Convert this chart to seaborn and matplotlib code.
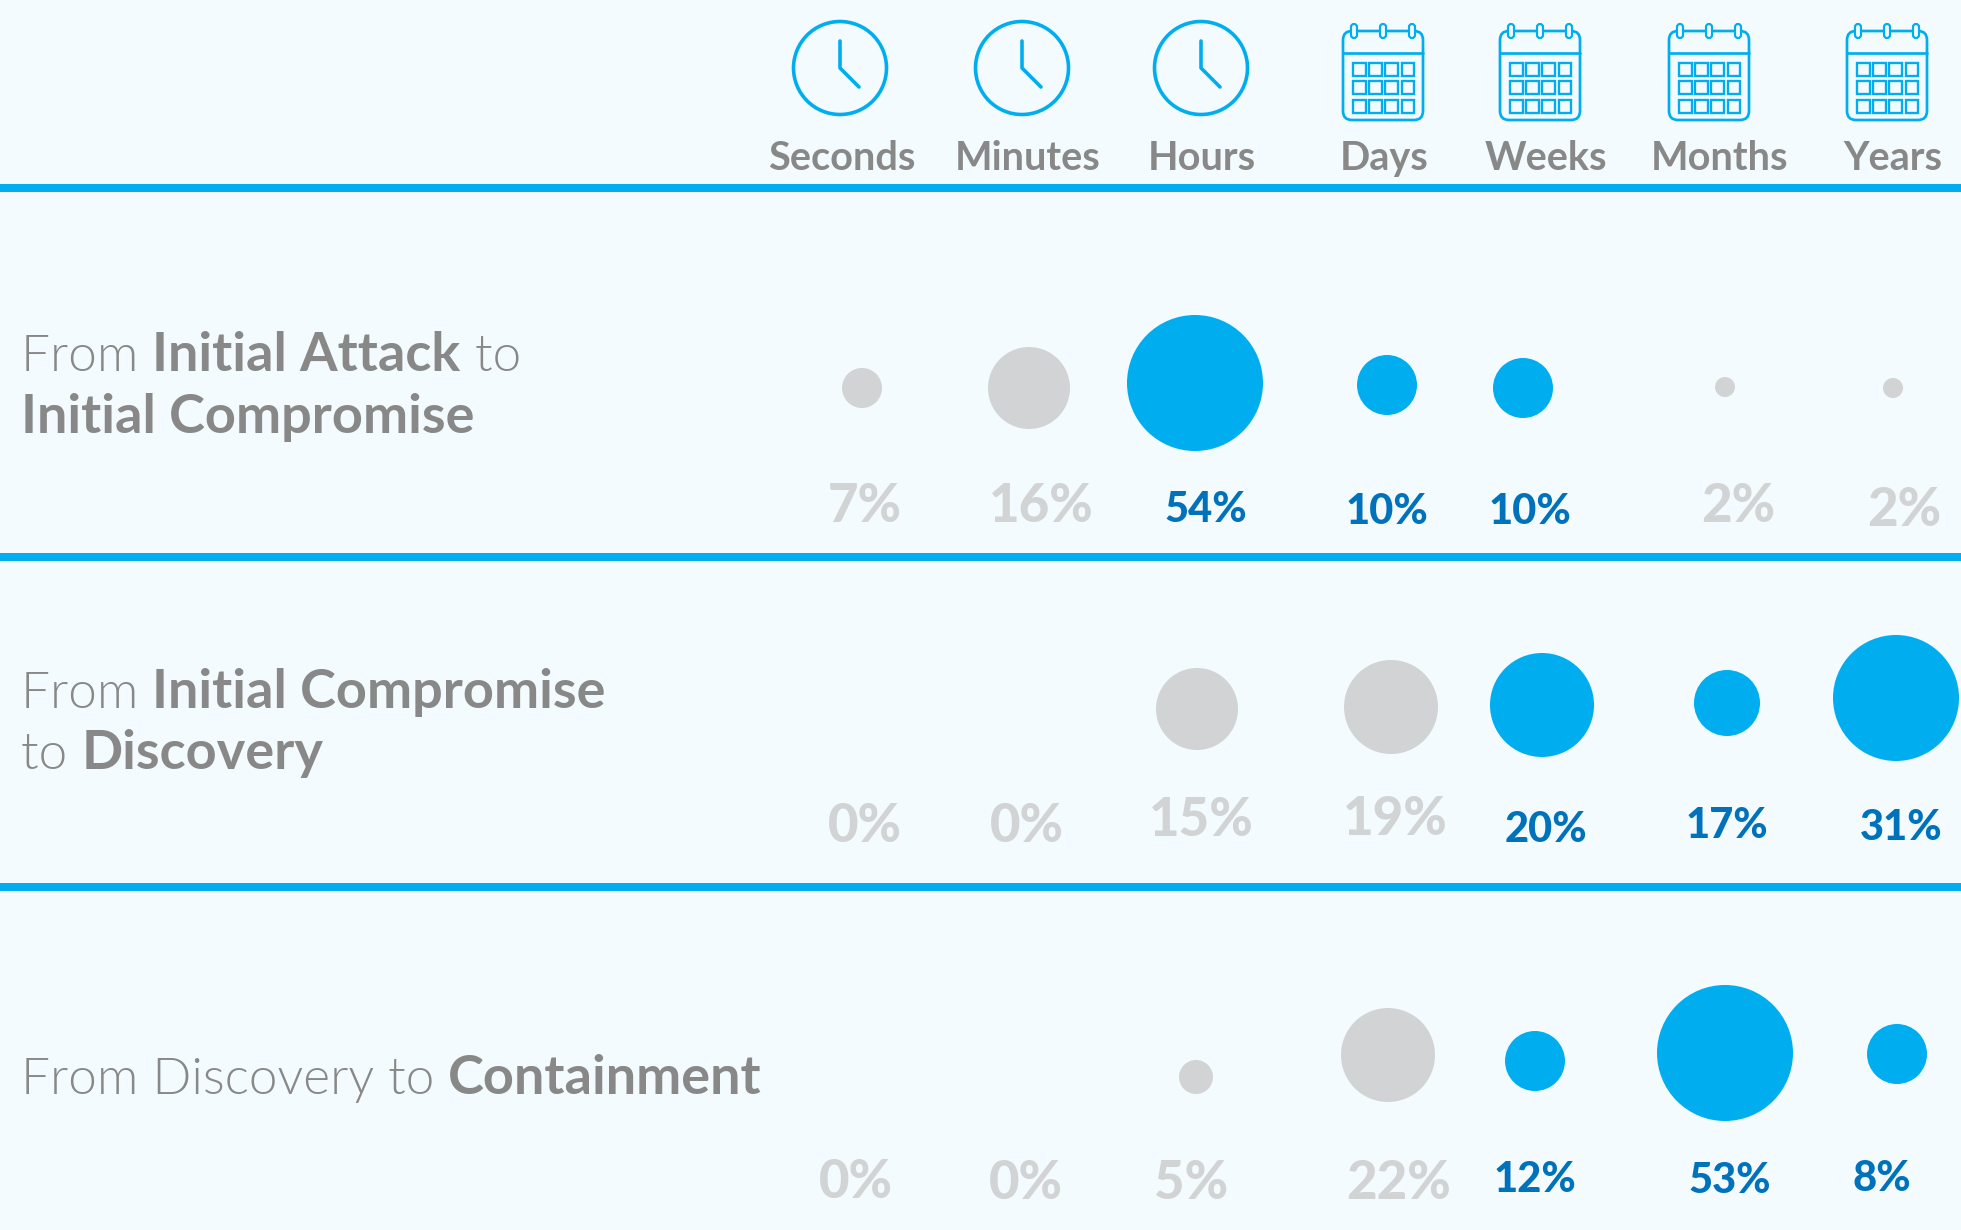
import pandas as pd
import seaborn as sns
import matplotlib.pyplot as plt
from matplotlib.patches import Circle, FancyBboxPatch, Rectangle

# values
periods = ['Seconds', 'Minutes', 'Hours', 'Days', 'Weeks', 'Months', 'Years']
stages = ['attack', 'discovery', 'containment']
pct_attack = [7, 16, 54, 10, 10, 2, 2]
pct_discovery = [0, 0, 15, 19, 20, 17, 31]
pct_containment = [0, 0, 5, 22, 12, 53, 8]
hot_attack = [0, 0, 1, 1, 1, 0, 0]
hot_discovery = [0, 0, 0, 0, 1, 1, 1]
hot_containment = [0, 0, 0, 0, 1, 1, 1]

BG = '#F3FBFF'
CYAN = '#00AEEF'
GREY = '#D1D3D4'
BLUE = '#0072BC'
TXT = '#888888'
FONT = 'Lato'

# layout, in pixels of the output picture: the original nudges every bubble by hand
bubble_x = {'attack': [862, 1029, 1195, 1387, 1523, 1725, 1893],
            'discovery': [862, 1029, 1197, 1391, 1542, 1727, 1896],
            'containment': [862, 1029, 1196, 1388, 1535, 1725, 1897]}
bubble_y = {'attack': [388, 388, 383, 385, 388, 387, 388],
            'discovery': [709, 709, 709, 707, 705, 703, 698],
            'containment': [1077, 1077, 1077, 1055, 1061, 1053, 1054]}
label_x = {'attack': [865, 1041, 1206, 1387, 1530, 1738, 1904],
           'discovery': [865, 1027, 1201, 1395, 1546, 1727, 1901],
           'containment': [856, 1026, 1191, 1398, 1535, 1730, 1882]}
label_y = {'attack': [522, 522, 522, 524, 524, 522, 526],
           'discovery': [842, 842, 836, 835, 842, 838, 840],
           'containment': [1198, 1199, 1199, 1199, 1192, 1193, 1191]}
# bubble radius in pixels for each percentage, not strictly monotonic in the original
radius = {2: 10, 5: 17, 7: 20, 8: 30, 10: 30, 12: 30, 15: 41, 16: 41, 17: 33,
          19: 47, 20: 52, 22: 47, 31: 63, 53: 68, 54: 68}
period_x = [842, 1028, 1202, 1384, 1546, 1720, 1893]
clock_x = [840, 1022, 1201]
cal_x = [1383, 1540, 1709, 1887]
rule_y = [188, 557, 887]

rows = {'attack': (pct_attack, hot_attack),
        'discovery': (pct_discovery, hot_discovery),
        'containment': (pct_containment, hot_containment)}
frames = []
for st in stages:
    frames.append(pd.DataFrame({'stage': st, 'period': periods, 'pct': rows[st][0],
                                'hot': rows[st][1], 'x': bubble_x[st], 'y': bubble_y[st],
                                'lx': label_x[st], 'ly': label_y[st]}))
df = pd.concat(frames, ignore_index=True)

sns.set_style('white')
plt.rcParams['font.family'] = [FONT, 'DejaVu Sans']
DPI = 100
fig, ax = plt.subplots(figsize=(19.61, 12.30), dpi=DPI, facecolor=BG)
ax.set_position([0, 0, 1, 1])
ax.set_facecolor(BG)

for y in rule_y:
    ax.axhline(y, color=CYAN, lw=8 * 72 / DPI, zorder=1)

shown = df[df['pct'] > 0]
sizes = {k: (2 * r * 72 / DPI) ** 2 for k, r in radius.items()}
sns.scatterplot(data=shown, x='x', y='y', hue='hot', palette={0: GREY, 1: CYAN},
                size='pct', sizes=sizes, linewidth=0, legend=False, ax=ax, zorder=3)
ax.set_xlim(0, 1961)
ax.set_ylim(1230, 0)
ax.axis('off')

# percentage labels
for _, r in df.iterrows():
    ax.text(r['lx'], r['ly'], f"{r['pct']}%", ha='center', va='baseline',
            color=BLUE if r['hot'] else GREY, fontsize=30 if r['hot'] else 38,
            fontweight=900, zorder=4)

# period labels
for name, x in zip(periods, period_x):
    ax.text(x, 170, name, ha='center', va='baseline', color=TXT, fontsize=28.5, fontweight='bold')

# stage titles built from light and bold runs
renderer = fig.canvas.get_renderer()


def runs(x, y, parts):
    for s, bold in parts:
        t = ax.text(x, y, s, ha='left', va='baseline', color=TXT,
                    fontsize=39 if bold else 37, fontweight='bold' if bold else 300)
        x = ax.transData.inverted().transform(
            (t.get_window_extent(renderer).x1, 0))[0]


runs(21, 371, [('From ', False), ('Initial Attack', True), (' to', False)])
runs(21, 433, [('Initial Compromise', True)])
runs(21, 708, [('From ', False), ('Initial Compromise', True)])
runs(21, 769, [('to ', False), ('Discovery', True)])
runs(21, 1094, [('From Discovery to ', False), ('Containment', True)])

# header icons
ICON_LW = 3.6 * 72 / DPI
for cx in clock_x:
    ax.add_patch(Circle((cx, 68), 46.5, fill=False, ec=CYAN, lw=ICON_LW))
    ax.plot([cx, cx, cx + 19], [41, 68, 87], color=CYAN, lw=ICON_LW,
            solid_capstyle='round', solid_joinstyle='round')

for cx in cal_x:
    ax.add_patch(FancyBboxPatch((cx - 40, 31), 80, 89, boxstyle='round,pad=0,rounding_size=9',
                                fill=False, ec=CYAN, lw=ICON_LW * 0.75))
    ax.plot([cx - 40, cx + 40], [53, 53], color=CYAN, lw=ICON_LW * 0.75)
    for dx in (-29, 0, 29):
        ax.add_patch(FancyBboxPatch((cx + dx - 3, 24), 6, 14, boxstyle='round,pad=0,rounding_size=3',
                                    fc=BG, ec=CYAN, lw=ICON_LW * 0.6, zorder=3))
    for i in range(4):
        for j in range(3):
            ax.add_patch(Rectangle((cx - 30 + i * 16.2, 63 + j * 18.3), 12.5, 13,
                                   fill=False, ec=CYAN, lw=ICON_LW * 0.65))

fig.savefig('out.png', dpi=DPI, facecolor=BG)
